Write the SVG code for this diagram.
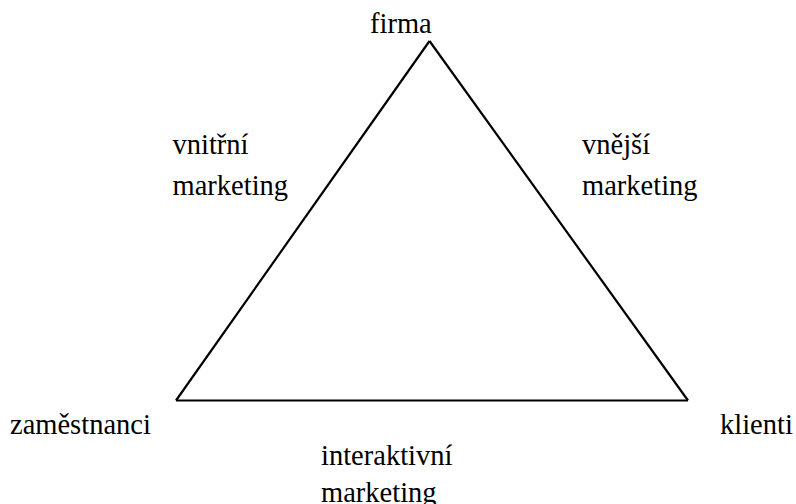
<svg xmlns="http://www.w3.org/2000/svg" width="796" height="504" viewBox="0 0 796 504">
<style>
text{font-family:"Liberation Serif","Times New Roman",serif;font-size:28.5px;fill:#000}
.edge{fill:none;stroke:#000;stroke-width:2.2;stroke-linejoin:miter}
</style>
<rect width="796" height="504" fill="#fff"/>
<g id="connectors">
<line class="edge" x1="429.5" y1="41" x2="176" y2="400.5"/>
<line class="edge" x1="429.5" y1="41" x2="688" y2="400.5"/>
<line class="edge" x1="176" y1="400.5" x2="688" y2="400.5"/>
</g>
<g id="firma"><text x="370" y="33">firma</text></g>
<g id="zamestnanci"><text x="10" y="433.5">zaměstnanci</text></g>
<g id="klienti"><text x="720" y="433.5">klienti</text></g>
<g id="vnitrni"><text x="172.5" y="153.5">vnitřní</text><text x="172.5" y="194.5">marketing</text></g>
<g id="vnejsi"><text x="582" y="153.5">vnější</text><text x="582" y="194.5">marketing</text></g>
<g id="interaktivni"><text x="321" y="465">interaktivní</text><text x="321" y="501.5">marketing</text></g>
</svg>
